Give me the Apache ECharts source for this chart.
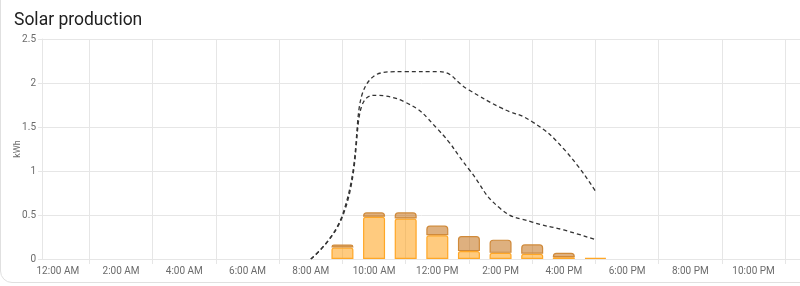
<!DOCTYPE html>
<html>
<head>
<meta charset="utf-8">
<script src="https://cdn.jsdelivr.net/npm/echarts@6/dist/echarts.min.js"></script>
<style>
  html, body { margin: 0; padding: 0; background: #fff; overflow: hidden; }
  #card { position: absolute; left: 0; top: -14px; width: 830px; height: 297px; border: 1px solid #e0e0e0; border-radius: 12px; box-sizing: border-box; }
  #chart { position: absolute; left: 0; top: 0; width: 800px; height: 286px; }
</style>
</head>
<body>
<div id="card"></div>
<div id="chart"></div>
<script>
// Hours of the day (0..23)
const hours = [0,1,2,3,4,5,6,7,8,9,10,11,12,13,14,15,16,17,18,19,20,21,22,23];
// Solar production, source 1 (lower, light orange) kWh per hour
const solarLower = [null,null,null,null,null,null,null,null,null,0.13,0.48,0.46,0.27,0.09,0.07,0.06,0.02,0.012,null,null,null,null,null,null];
// Solar production, source 2 (upper, darker) kWh per hour
const solarUpper = [null,null,null,null,null,null,null,null,null,0.035,0.05,0.07,0.11,0.17,0.15,0.107,0.05,null,null,null,null,null,null,null];
// Forecast lines (kWh)
const forecastHigh = [null,null,null,null,null,null,null,null,0,0.5,2.08,2.13,2.13,1.92,1.72,1.56,1.25,0.77,null,null,null,null,null,null];
const forecastLow  = [null,null,null,null,null,null,null,null,0,0.48,1.86,1.78,1.48,1.02,0.57,0.42,0.33,0.22,null,null,null,null,null,null];
// Y-axis ticks
const yTicks = [0, 0.5, 1, 1.5, 2, 2.5];

// Half-hour slots from -0.5h to 23.5h (49 points)
const slots = [];
for (let i = 0; i <= 48; i++) slots.push(-0.5 + i / 2);
function toSlots(arr) {
  const out = new Array(slots.length).fill(null);
  hours.forEach((h, k) => { out[2 * h + 1] = arr[k]; });
  return out;
}
function fmtHour(h) {
  const hh = Math.round(h);
  const ampm = hh < 12 ? 'AM' : 'PM';
  let d = hh % 12; if (d === 0) d = 12;
  return d + ':00 ' + ampm;
}
const chart = echarts.init(document.getElementById('chart'), null, { renderer: 'canvas' });
const gridColor = '#e6e6e6';
const lineStyleDash = { color: '#333333', width: 1.3, type: [4, 3] };
chart.setOption({
  animation: false,
  textStyle: { fontFamily: 'Roboto' },
  title: {
    text: 'Solar production', left: 9, top: 7,
    textStyle: { fontSize: 17.5, fontWeight: 400, color: '#212121', fontFamily: 'Roboto' }
  },
  grid: { left: 42, top: 39, width: 759, bottom: 27, outerBoundsMode: 'none', containLabel: false },
  xAxis: {
    type: 'category', boundaryGap: false, data: slots,
    axisLine: { show: true, lineStyle: { color: gridColor } },
    axisTick: { show: true, length: 5, interval: (i) => i % 4 === 3, lineStyle: { color: gridColor } },
    axisLabel: { interval: (i) => i % 4 === 1, formatter: (v) => fmtHour(Number(v)), fontSize: 10, color: '#6b6b6b', margin: 7 },
    splitLine: { show: true, interval: (i) => i % 4 === 3, lineStyle: { color: gridColor } }
  },
  yAxis: {
    type: 'value', min: yTicks[0], max: yTicks[yTicks.length - 1], interval: 0.5,
    name: 'kWh', nameLocation: 'middle', nameGap: 20, nameRotate: 90, nameMoveOverlap: false,
    nameTextStyle: { fontSize: 9, color: '#6b6b6b' },
    axisLine: { show: true, lineStyle: { color: gridColor } },
    axisTick: { show: true, length: 4, lineStyle: { color: gridColor } },
    axisLabel: { fontSize: 10, color: '#6b6b6b', margin: 6 },
    splitLine: { show: true, lineStyle: { color: gridColor } }
  },
  series: [
    {
      type: 'bar', stack: 'solar', data: toSlots(solarLower), barWidth: 22,
      itemStyle: { color: 'rgba(255,152,0,0.5)', borderColor: '#ffa726', borderWidth: 1.2, borderRadius: [2, 2, 0, 0] }
    },
    {
      type: 'bar', stack: 'solar', data: toSlots(solarUpper), barWidth: 22,
      itemStyle: { color: 'rgba(190,98,0,0.5)', borderColor: '#d08a3a', borderWidth: 1.2, borderRadius: [3, 3, 0, 0] }
    },
    {
      type: 'line', data: toSlots(forecastHigh), smooth: 0.5, symbol: 'none', connectNulls: true,
      lineStyle: lineStyleDash, z: 5
    },
    {
      type: 'line', data: toSlots(forecastLow), smooth: 0.5, symbol: 'none', connectNulls: true,
      lineStyle: lineStyleDash, z: 5
    }
  ]
});
</script>
</body>
</html>
